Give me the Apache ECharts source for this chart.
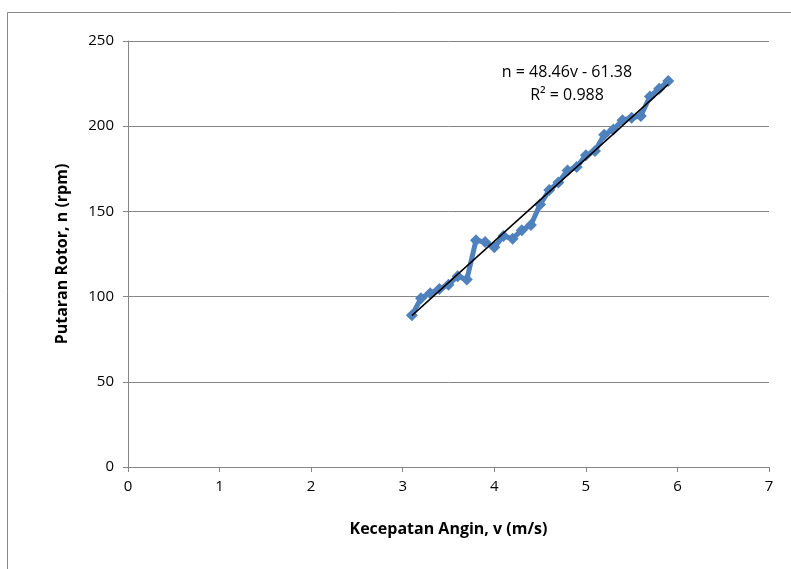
<!DOCTYPE html>
<html>
<head>
<meta charset="utf-8">
<script src="https://cdn.jsdelivr.net/npm/echarts@6/dist/echarts.min.js"></script>
<style>
  html, body { margin: 0; padding: 0; background: #fff; }
  #chart { width: 791px; height: 569px; }
</style>
</head>
<body>
<div id="chart"></div>
<script>
// kecepatan angin (m/s) dan putaran rotor (rpm)
var speed = [3.1, 3.2, 3.3, 3.4, 3.5, 3.6, 3.7, 3.8, 3.9, 4.0, 4.1, 4.2, 4.3, 4.4, 4.5,
  4.6, 4.7, 4.8, 4.9, 5.0, 5.1, 5.2, 5.3, 5.4, 5.5, 5.6, 5.7, 5.8, 5.9]
var rpm = [89, 99, 102, 104.5, 107, 112, 110, 133, 132, 129, 135.5, 134, 139, 142, 154,
  162.5, 167, 174, 176, 183, 185.5, 195, 198, 203.5, 205, 206, 217.5, 222, 226.5]
// garis tren linear
var slope = 48.46
var intercept = -61.38
var r2 = 0.988

var pts = speed.map(function (v, i) { return [v, rpm[i]] })
var vMin = speed[0], vMax = speed[speed.length - 1]
var trend = [[vMin, slope * vMin + intercept], [vMax, slope * vMax + intercept]]

var font = "'Open Sans', 'Liberation Sans', sans-serif"
var chart = echarts.init(document.getElementById('chart'))
chart.setOption({
  animation: false,
  textStyle: { fontFamily: font },
  graphic: [
    {
      type: 'rect',
      shape: { x: 7.5, y: 12.5, width: 800, height: 600 },
      style: { fill: 'none', stroke: '#888', lineWidth: 1 },
      silent: true
    },
    {
      type: 'text',
      x: 567, y: 64,
      style: {
        text: 'n = ' + slope + 'v - ' + Math.abs(intercept),
        font: '16px ' + font,
        fill: '#000',
        textAlign: 'center'
      }
    },
    {
      type: 'text',
      x: 567, y: 87,
      style: {
        text: 'R² = ' + r2,
        font: '16px ' + font,
        fill: '#000',
        textAlign: 'center'
      }
    }
  ],
  grid: { left: 128, right: 22, top: 41, bottom: 102 },
  xAxis: {
    type: 'value',
    min: 0, max: 7, interval: 1,
    name: 'Kecepatan Angin, v (m/s)',
    nameLocation: 'middle',
    nameGap: 54,
    nameTextStyle: { fontSize: 16, fontWeight: 'bold', color: '#000' },
    axisLine: { lineStyle: { color: '#868686' } },
    axisTick: { show: true, length: 5, lineStyle: { color: '#868686' } },
    axisLabel: { fontSize: 15, color: '#000', margin: 12 },
    splitLine: { show: false }
  },
  yAxis: {
    type: 'value',
    min: 0, max: 250, interval: 50,
    name: 'Putaran Rotor, n (rpm)',
    nameLocation: 'middle',
    nameGap: 58,
    nameTextStyle: { fontSize: 16, fontWeight: 'bold', color: '#000' },
    axisLine: { show: true, lineStyle: { color: '#868686' } },
    axisTick: { show: true, length: 5, lineStyle: { color: '#868686' } },
    axisLabel: { fontSize: 15, color: '#000', margin: 14 },
    splitLine: { lineStyle: { color: '#868686', width: 1 } }
  },
  series: [
    {
      type: 'line',
      data: pts,
      symbol: 'diamond',
      symbolSize: 12,
      lineStyle: { color: '#4F81BD', width: 5 },
      itemStyle: { color: '#4F81BD' }
    },
    {
      type: 'line',
      data: trend,
      symbol: 'none',
      lineStyle: { color: '#000', width: 1.5 },
      z: 5
    }
  ]
})
</script>
</body>
</html>
